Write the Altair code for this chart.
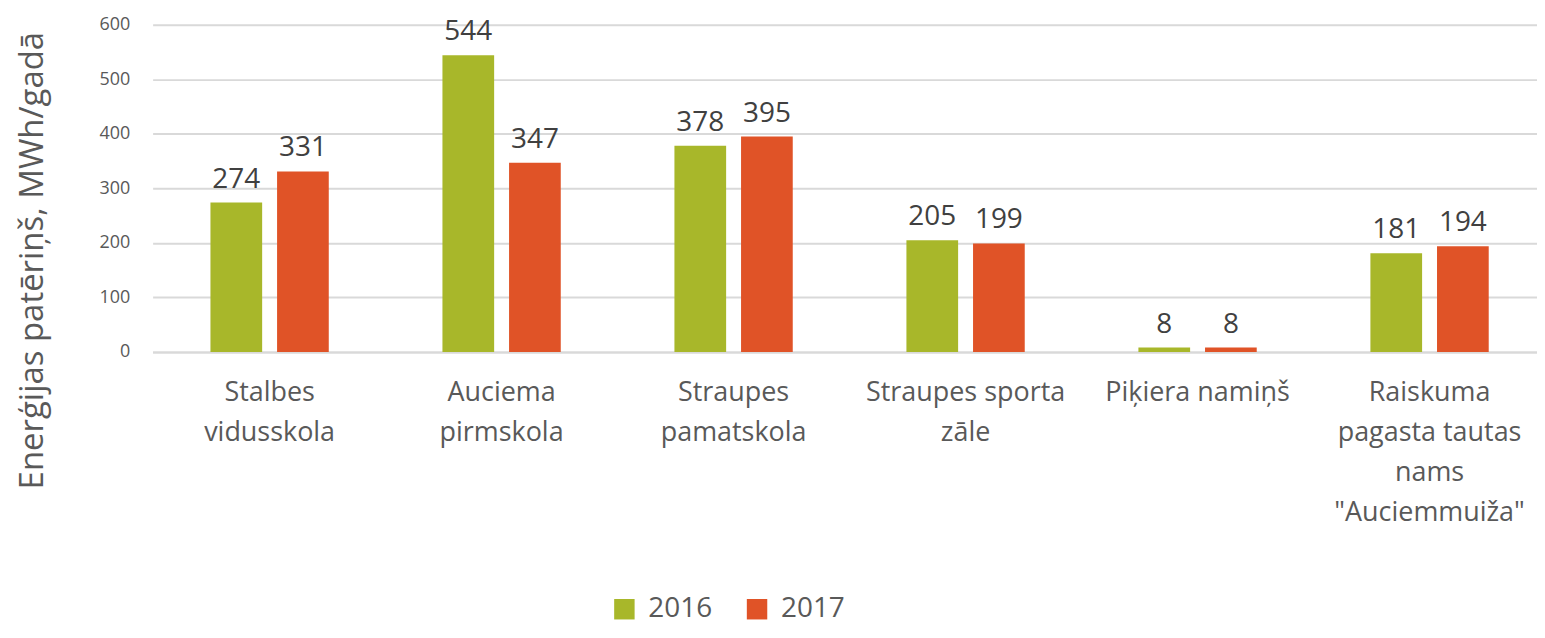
import altair as alt
import pandas as pd

categories = [
    "Stalbes vidusskola",
    "Auciema pirmskola",
    "Straupes pamatskola",
    "Straupes sporta zāle",
    "Piķiera namiņš",
    "Raiskuma pagasta tautas nams \"Auciemmuiža\"",
]
label_lines = [
    ["Stalbes", "vidusskola"],
    ["Auciema", "pirmskola"],
    ["Straupes", "pamatskola"],
    ["Straupes sporta", "zāle"],
    ["Piķiera namiņš"],
    ["Raiskuma", "pagasta tautas", "nams", "\"Auciemmuiža\""],
]
years = ["2016", "2017"]
values_2016 = [274, 544, 378, 205, 8, 181]
values_2017 = [331, 347, 395, 199, 8, 194]
colors = ["#A8B72A", "#E05327"]

rows = []
for c, v1, v2 in zip(categories, values_2016, values_2017):
    rows.append({"cat": c, "year": "2016", "val": v1})
    rows.append({"cat": c, "year": "2017", "val": v2})
df = pd.DataFrame(rows)

label_map = {c: "|".join(l) for c, l in zip(categories, label_lines)}
expr_parts = " : ".join(
    [f"datum.label == {repr(c)} ? {repr(label_map[c])}" for c in categories]
) + " : datum.label"
label_expr = f"split({expr_parts}, '|')"

FONT = "Open Sans"

x = alt.X(
    "cat:N",
    sort=categories,
    title=None,
    scale=alt.Scale(paddingInner=0.49, paddingOuter=0.2287, align=0.545),
    axis=alt.Axis(
        labelExpr=label_expr,
        labelAngle=0,
        labelFontSize=27,
        labelColor="#595959",
        labelFont=FONT,
        labelLineHeight=40,
        labelPadding=28,
        labelBaseline="top",
        ticks=False,
        domain=True,
        domainColor="#d9d9d9",
        domainWidth=2,
        grid=False,
        labelLimit=400,
    ),
)
xo = alt.XOffset("year:N", scale=alt.Scale(paddingInner=0.224, paddingOuter=0))
y = alt.Y(
    "val:Q",
    scale=alt.Scale(domain=[0, 600]),
    axis=alt.Axis(
        values=[0, 100, 200, 300, 400, 500, 600],
        title="Enerģijas patēriņš, MWh/gadā",
        titleFontSize=33,
        titleFont=FONT,
        titleFontWeight="normal",
        titleColor="#595959",
        titleAngle=-90,
        titleAlign="center",
        titleBaseline="middle",
        titleX=-120,
        titleY=236,
        labelFontSize=18,
        labelFont=FONT,
        labelColor="#595959",
        labelPadding=23,
        ticks=False,
        domain=False,
        gridColor="#d9d9d9",
        gridWidth=2,
    ),
)

color = alt.Color(
    "year:N",
    scale=alt.Scale(domain=years, range=colors),
    legend=alt.Legend(
        title=None,
        orient="none",
        legendX=459,
        legendY=572,
        direction="horizontal",
        symbolType="square",
        symbolSize=420,
        symbolStrokeWidth=0,
        labelFontSize=28,
        labelFont=FONT,
        labelColor="#595959",
        columnPadding=30,
        labelOffset=10,
        padding=0,
    ),
)

bars = alt.Chart(df).mark_bar().encode(x=x, xOffset=xo, y=y, color=color)
texts = alt.Chart(df).mark_text(
    baseline="bottom", dy=-9, fontSize=28, font=FONT, color="#404040"
).encode(x=x, xOffset=xo, y=y, text="val:Q")

chart = (
    (bars + texts)
    .properties(
        width=1388,
        height=328,
        autosize=alt.AutoSizeParams(type="none"),
        padding={"left": 145, "top": 16, "right": 0, "bottom": 278},
    )
    .configure_view(stroke=None)
)

chart.save("out.html", embed_options={"renderer": "svg", "actions": False})
